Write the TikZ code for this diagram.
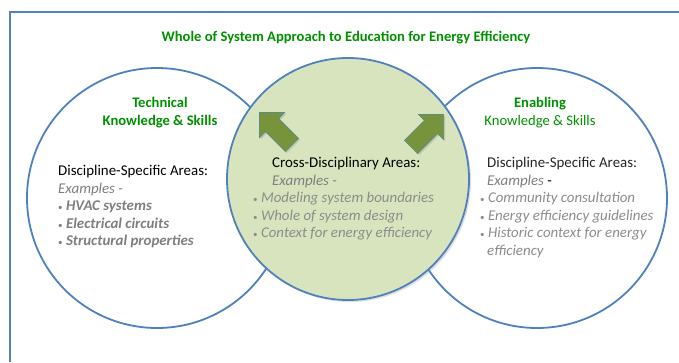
\documentclass[tikz,border=0pt]{standalone}
\usepackage{fontspec}
\setmainfont{Carlito}
\usetikzlibrary{shapes.arrows,shadows}

\definecolor{ringblue}{RGB}{79,129,189}
\definecolor{crossfill}{RGB}{215,228,189}
\definecolor{arrowgreen}{RGB}{119,147,60}
\definecolor{headgreen}{RGB}{0,145,0}
\definecolor{textgrey}{RGB}{127,127,127}
\definecolor{listgrey}{RGB}{140,140,140}

\newcommand{\pt}{{\fontsize{9}{9}\selectfont\textbullet}\ }

\begin{document}
\begin{tikzpicture}[x=1pt,y=-1pt,
    ring/.style={circle,draw=ringblue,line width=1.8pt,inner sep=0pt,minimum size=260pt},
    pointer/.style={single arrow,fill=arrowgreen,draw=ringblue!60!arrowgreen,line width=0.6pt,
        inner sep=0pt,inner ysep=9pt,minimum height=46pt,single arrow head extend=8.5pt,
        drop shadow={shadow xshift=1.5pt,shadow yshift=-1.5pt,opacity=0.3}},
    heading/.style={text=headgreen,align=center,inner sep=0pt,
        font=\bfseries\fontsize{14.6}{18}\selectfont},
    areas/.style={anchor=north west,inner sep=0pt,align=left,
        font=\fontsize{14.9}{17.6}\selectfont}]

  \useasboundingbox (0,0) rectangle (679,362);

  % frame
  \draw[ringblue,line width=1.8pt] (10,362) -- (10,12) -- (690,12);

  % the three areas
  \node[ring,fill=white] (tech) at (157,198) {};
  \node[ring,fill=white] (enab) at (537,198) {};
  \node[ring,fill=crossfill,minimum size=242pt,
        drop shadow={shadow xshift=2pt,shadow yshift=-2pt,opacity=0.25}] (cross) at (348,179) {};

  \node[pointer,rotate=135] (totech) at (279,132) {};
  \node[pointer,rotate=45]  (toenab) at (424,134) {};

  % texts
  \node[heading] (title) at (346,38) {Whole of System Approach to Education for Energy Efficiency};
  \node[heading] (techhead) at (160,113) {Technical\\Knowledge \& Skills};
  \node[heading] (enabhead) at (540,113) {Enabling\\{\mdseries Knowledge \& Skills}};

  \node[areas] (techlist) at (58,165) {Discipline-Specific Areas:\\
    {\color{textgrey}\itshape Examples -}\\
    {\color{textgrey}\pt\bfseries\itshape HVAC systems}\\
    {\color{textgrey}\pt\bfseries\itshape Electrical circuits}\\
    {\color{textgrey}\pt\bfseries\itshape Structural properties}};

  \node[areas] (crosslist) at (253,157) {\hspace*{19pt}Cross-Disciplinary Areas:\\
    \hspace*{19pt}{\color{textgrey}\itshape Examples -}\\
    {\color{listgrey}\pt\itshape Modeling system boundaries}\\
    {\color{listgrey}\pt\itshape Whole of system design}\\
    {\color{listgrey}\pt\itshape Context for energy efficiency}};

  \node[areas] (enablist) at (480,157) {\hspace*{7pt}{\color{black!85}Discipline-Specific Areas:}\\
    \hspace*{7pt}{\color{textgrey}\itshape Examples} -\\
    {\color{listgrey}\pt\itshape Community consultation}\\
    {\color{listgrey}\pt\itshape Energy efficiency guidelines}\\
    {\color{listgrey}\pt\itshape Historic context for energy}\\
    \hspace*{7pt}{\color{listgrey}\itshape efficiency}};

\end{tikzpicture}
\end{document}
